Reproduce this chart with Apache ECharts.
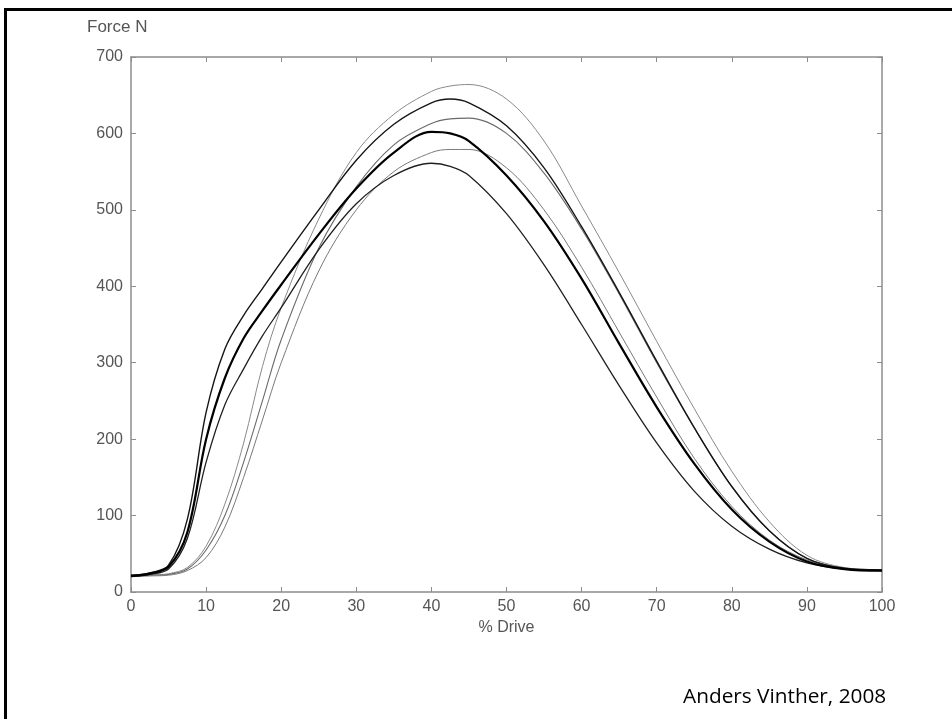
<!DOCTYPE html>
<html>
<head>
<meta charset="utf-8">
<script src="https://cdn.jsdelivr.net/npm/echarts@6/dist/echarts.min.js"></script>
<style>html,body{margin:0;padding:0;background:#fff}#c{width:952px;height:719px}</style>
</head>
<body>
<div id="c"></div>
<script>
const xDrive = [0,2.5,5,7.5,10,12.5,15,17.5,20,25,30,35,40,42.5,45,50,55,60,65,70,75,80,85,90,95,100];
const curve665 = [21,22,24,32,60,115,195,295,372,488,575,625,655,662,664,645,590,505,418,328,240,158,92,48,32,29];
const curve645 = [22,25,35,95,235,318,362,397,432,500,565,612,640,645,640,610,555,478,392,302,215,138,80,44,31,29];
const curve620 = [21,22,23,30,55,100,170,250,330,450,530,585,613,619,620,600,548,475,390,300,215,138,80,44,31,28];
const curve602 = [21,24,33,78,200,280,332,368,402,468,528,575,602,600,590,545,485,410,325,242,168,108,66,40,30,28];
const curve580 = [20,21,22,28,45,85,150,225,300,420,500,550,575,579,579,555,500,425,340,255,175,112,68,42,31,28];
const curve560 = [20,23,30,70,170,245,292,335,372,448,508,545,561,557,545,495,428,350,270,195,132,86,56,38,30,28];
const xTicks = [0,10,20,30,40,50,60,70,80,90,100];
const yTicks = [0,100,200,300,400,500,600,700];

function pairs(v){ return xDrive.map((x,i)=>[x,v[i]]); }
const curves = [
  {d:curve665, c:'#8a8a8a', w:1},
  {d:curve620, c:'#6a6a6a', w:1.1},
  {d:curve580, c:'#7a7a7a', w:1},
  {d:curve645, c:'#151515', w:1.4},
  {d:curve560, c:'#202020', w:1.3},
  {d:curve602, c:'#000000', w:2.2}
];
const chart = echarts.init(document.getElementById('c'), null, {renderer:'canvas'});
const axisCol = '#8c8c8c';
const labelStyle = {color:'#555', fontFamily:'Liberation Sans, Arial, sans-serif', fontSize:16};
chart.setOption({
  animation:false,
  backgroundColor:'#fff',
  grid:{left:131, right:70, top:57, bottom:127},
  xAxis:[{
    type:'value', min:0, max:100, interval:10,
    axisLine:{show:true, onZero:false, lineStyle:{color:axisCol, width:1.5}},
    axisTick:{show:true, inside:true, length:5, lineStyle:{color:axisCol}},
    axisLabel:Object.assign({margin:7, formatter:v=>xTicks.includes(v)?String(v):''}, labelStyle),
    splitLine:{show:false},
    name:'% Drive', nameLocation:'middle', nameGap:22, nameTextStyle:labelStyle
  },{
    type:'value', min:0, max:100, interval:10, position:'top',
    axisLine:{show:true, onZero:false, lineStyle:{color:axisCol, width:1.5}},
    axisTick:{show:true, inside:true, length:5, lineStyle:{color:axisCol}},
    axisLabel:{show:false}, splitLine:{show:false}
  }],
  yAxis:[{
    type:'value', min:0, max:700, interval:100,
    axisLine:{show:true, onZero:false, lineStyle:{color:axisCol, width:1.5}},
    axisTick:{show:true, inside:true, length:5, lineStyle:{color:axisCol}},
    axisLabel:Object.assign({margin:8, formatter:v=>yTicks.includes(v)?String(v):''}, labelStyle),
    splitLine:{show:false}
  },{
    type:'value', min:0, max:700, interval:100, position:'right',
    axisLine:{show:true, onZero:false, lineStyle:{color:axisCol, width:1.5}},
    axisTick:{show:true, inside:true, length:5, lineStyle:{color:axisCol}},
    axisLabel:{show:false}, splitLine:{show:false}
  }],
  series: curves.map(s=>({
    type:'line', data:pairs(s.d), smooth:0.35, showSymbol:false, symbol:'none',
    lineStyle:{color:s.c, width:s.w}, xAxisIndex:0, yAxisIndex:0
  })),
  graphic:[
    {type:'rect', shape:{x:4, y:8, width:948, height:3}, style:{fill:'#000'}},
    {type:'rect', shape:{x:4, y:8, width:3, height:711}, style:{fill:'#000'}},
    {type:'text', left:87, top:19, style:{text:'Force N', fill:'#555', font:'17px "Liberation Sans", Arial, sans-serif'}},
    {type:'text', left:683, top:687, style:{text:'Anders Vinther, 2008', fill:'#000', font:'20.8px "Open Sans", Lato, sans-serif'}}
  ]
});
</script>
</body>
</html>
